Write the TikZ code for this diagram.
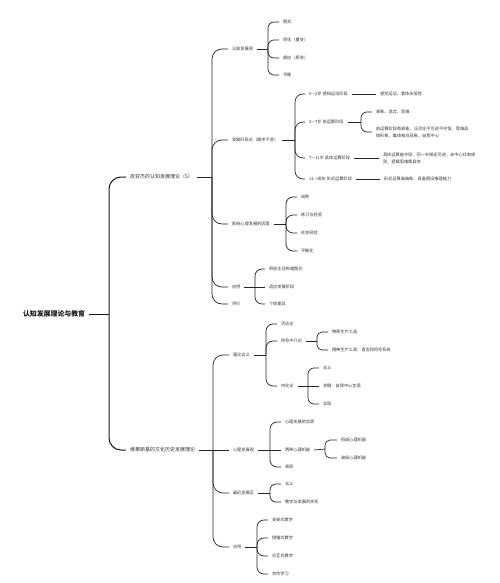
\documentclass[tikz,border=0pt]{standalone}
\usepackage{fontspec}
\setmainfont{Noto Sans CJK SC}
\begin{document}
\begin{tikzpicture}[x=1pt,y=-1pt,
  t/.style={anchor=west,inner xsep=0pt,inner ysep=1pt,outer xsep=4pt,xshift=-4pt,
            font=\fontsize{4.2}{7}\selectfont,text=black!80},
  t1/.style={t,font=\fontsize{5}{6}\selectfont},
  t0/.style={t,font=\fontsize{6.9}{8}\selectfont\bfseries,text=black!90},
  ln/.style={draw=black!85,line width=0.7pt},
  ln0/.style={draw=black!90,line width=1pt}]
\useasboundingbox[fill=white] (0,0) rectangle (500,583);

% root and level 1
\node[t0] (r) at (23,314) {认知发展理论与教育};
\node[t1] (p1) at (130,177) {皮亚杰的认知发展理论（5）};
\node[t1] (p2) at (130,450) {维果斯基的文化历史发展理论};

% Piaget level 2
\node[t] (a1) at (232,49) {认知发展观};
\node[t] (a2) at (232,140) {发展阶段论（顺序不变）};
\node[t] (a3) at (232,224) {影响心理发展的因素};
\node[t] (a4) at (232,287) {应用};
\node[t] (a5) at (232,304) {评价};

\node[t] (a11) at (283,22) {图式};
\node[t] (a12) at (283,40) {同化（量变）};
\node[t] (a13) at (283,58) {顺应（质变）};
\node[t] (a14) at (283,75) {平衡};

\node[t] (b1) at (309,94) {0—2岁 感知运动阶段};
\node[t] (b2) at (309,122) {2—7岁 前运算阶段};
\node[t] (b3) at (309,158) {7—11岁 具体运算阶段};
\node[t] (b4) at (309,179) {11—成年 形式运算阶段};
\node[t] (b1x) at (380,94) {感觉运动，客体永恒性};
\node[t] (b21) at (376,112) {表象、语言、思维};
\node[t,align=left] (b22) at (376,132) {前运算阶段有表象，泛灵论不可逆不守恒，思维具\\体形象，集体独白现象，自我中心};
\node[t,align=left] (b3x) at (383,158) {具体运算能守恒，同一补偿还可逆，去中心化有规\\则，逻辑思维需具体};
\node[t] (b4x) at (384,179) {形式运算高抽象，具备假设推理能力};

\node[t] (a31) at (301,197) {成熟};
\node[t] (a32) at (301,215) {练习与经验};
\node[t] (a33) at (301,233) {社会经验};
\node[t] (a34) at (301,251) {平衡化};

\node[t] (a41) at (269,269) {积极主动构建图式};
\node[t] (a42) at (269,287) {适应发展阶段};
\node[t] (a43) at (269,304) {个体差异};

% Vygotsky level 2
\node[t] (c1) at (233,355) {理论含义};
\node[t] (c2) at (233,450) {心理发展观};
\node[t] (c3) at (233,493) {最近发展区};
\node[t] (c4) at (233,547) {应用};

\node[t] (c11) at (281,324) {活动论};
\node[t] (c12) at (281,341) {符号中介论};
\node[t] (c13) at (281,386) {内化论};
\node[t] (c121) at (332,332) {物质生产工具};
\node[t] (c122) at (332,350) {精神生产工具：语言和符号系统};
\node[t] (c131) at (323,368) {含义};
\node[t] (c132) at (323,386) {关键：自我中心言语};
\node[t] (c133) at (323,404) {实现};

\node[t] (c21) at (285,422) {心理发展的实质};
\node[t] (c22) at (285,450) {两种心理机能};
\node[t] (c23) at (285,467) {表现};
\node[t] (c221) at (341,440) {低级心理机能};
\node[t] (c222) at (341,458) {高级心理机能};

\node[t] (c31) at (285,484) {含义};
\node[t] (c32) at (285,502) {教学与发展的关系};

\node[t] (c41) at (272,520) {支架式教学};
\node[t] (c42) at (272,538) {抛锚式教学};
\node[t] (c43) at (272,556) {交互式教学};
\node[t] (c44) at (272,574) {合作学习};

% connectors
\draw[ln0] (r.east) -- (109,314);
\foreach \c in {p1,p2} \draw[ln0,rounded corners=12pt] (109,314) |- (\c.west);

\draw[ln] (p1.east) -- (212,177);
\foreach \c in {a1,a2,a3,a4,a5} \draw[ln,rounded corners=10pt] (212,177) |- (\c.west);

\draw[ln] (a1.east) -- (268,49);
\foreach \c in {a11,a12,a13,a14} \draw[ln,rounded corners=6pt] (268,49) |- (\c.west);

\draw[ln] (a2.east) -- (295,140);
\foreach \c in {b1,b2,b3,b4} \draw[ln,rounded corners=8pt] (295,140) |- (\c.west);
\draw[ln] (b1.east) -- (b1x.west);
\draw[ln] (b3.east) -- (b3x.west);
\draw[ln] (b4.east) -- (b4x.west);
\draw[ln] (b2.east) -- (361,122);
\foreach \c in {b21,b22} \draw[ln,rounded corners=6pt] (361,122) |- (\c.west);

\draw[ln] (a3.east) -- (286,224);
\foreach \c in {a31,a32,a33,a34} \draw[ln,rounded corners=7pt] (286,224) |- (\c.west);

\draw[ln] (a4.east) -- (a42.west);
\foreach \c in {a41,a43} \draw[ln,rounded corners=7pt] (255,287) |- (\c.west);

\draw[ln] (p2.east) -- (c2.west);
\foreach \c in {c1,c3,c4} \draw[ln,rounded corners=10pt] (213,450) |- (\c.west);

\draw[ln] (c1.east) -- (266,355);
\foreach \c in {c11,c12,c13} \draw[ln,rounded corners=7pt] (266,355) |- (\c.west);
\draw[ln] (c12.east) -- (317,341);
\foreach \c in {c121,c122} \draw[ln,rounded corners=5pt] (317,341) |- (\c.west);
\draw[ln] (c13.east) -- (c132.west);
\foreach \c in {c131,c133} \draw[ln,rounded corners=6pt] (308,386) |- (\c.west);

\draw[ln] (c2.east) -- (c22.west);
\foreach \c in {c21,c23} \draw[ln,rounded corners=7pt] (270,450) |- (\c.west);
\draw[ln] (c22.east) -- (325,449);
\foreach \c in {c221,c222} \draw[ln,rounded corners=5pt] (325,449) |- (\c.west);

\draw[ln] (c3.east) -- (270,493);
\foreach \c in {c31,c32} \draw[ln,rounded corners=6pt] (270,493) |- (\c.west);

\draw[ln] (c4.east) -- (257,547);
\foreach \c in {c41,c42,c43,c44} \draw[ln,rounded corners=7pt] (257,547) |- (\c.west);
\end{tikzpicture}
\end{document}
